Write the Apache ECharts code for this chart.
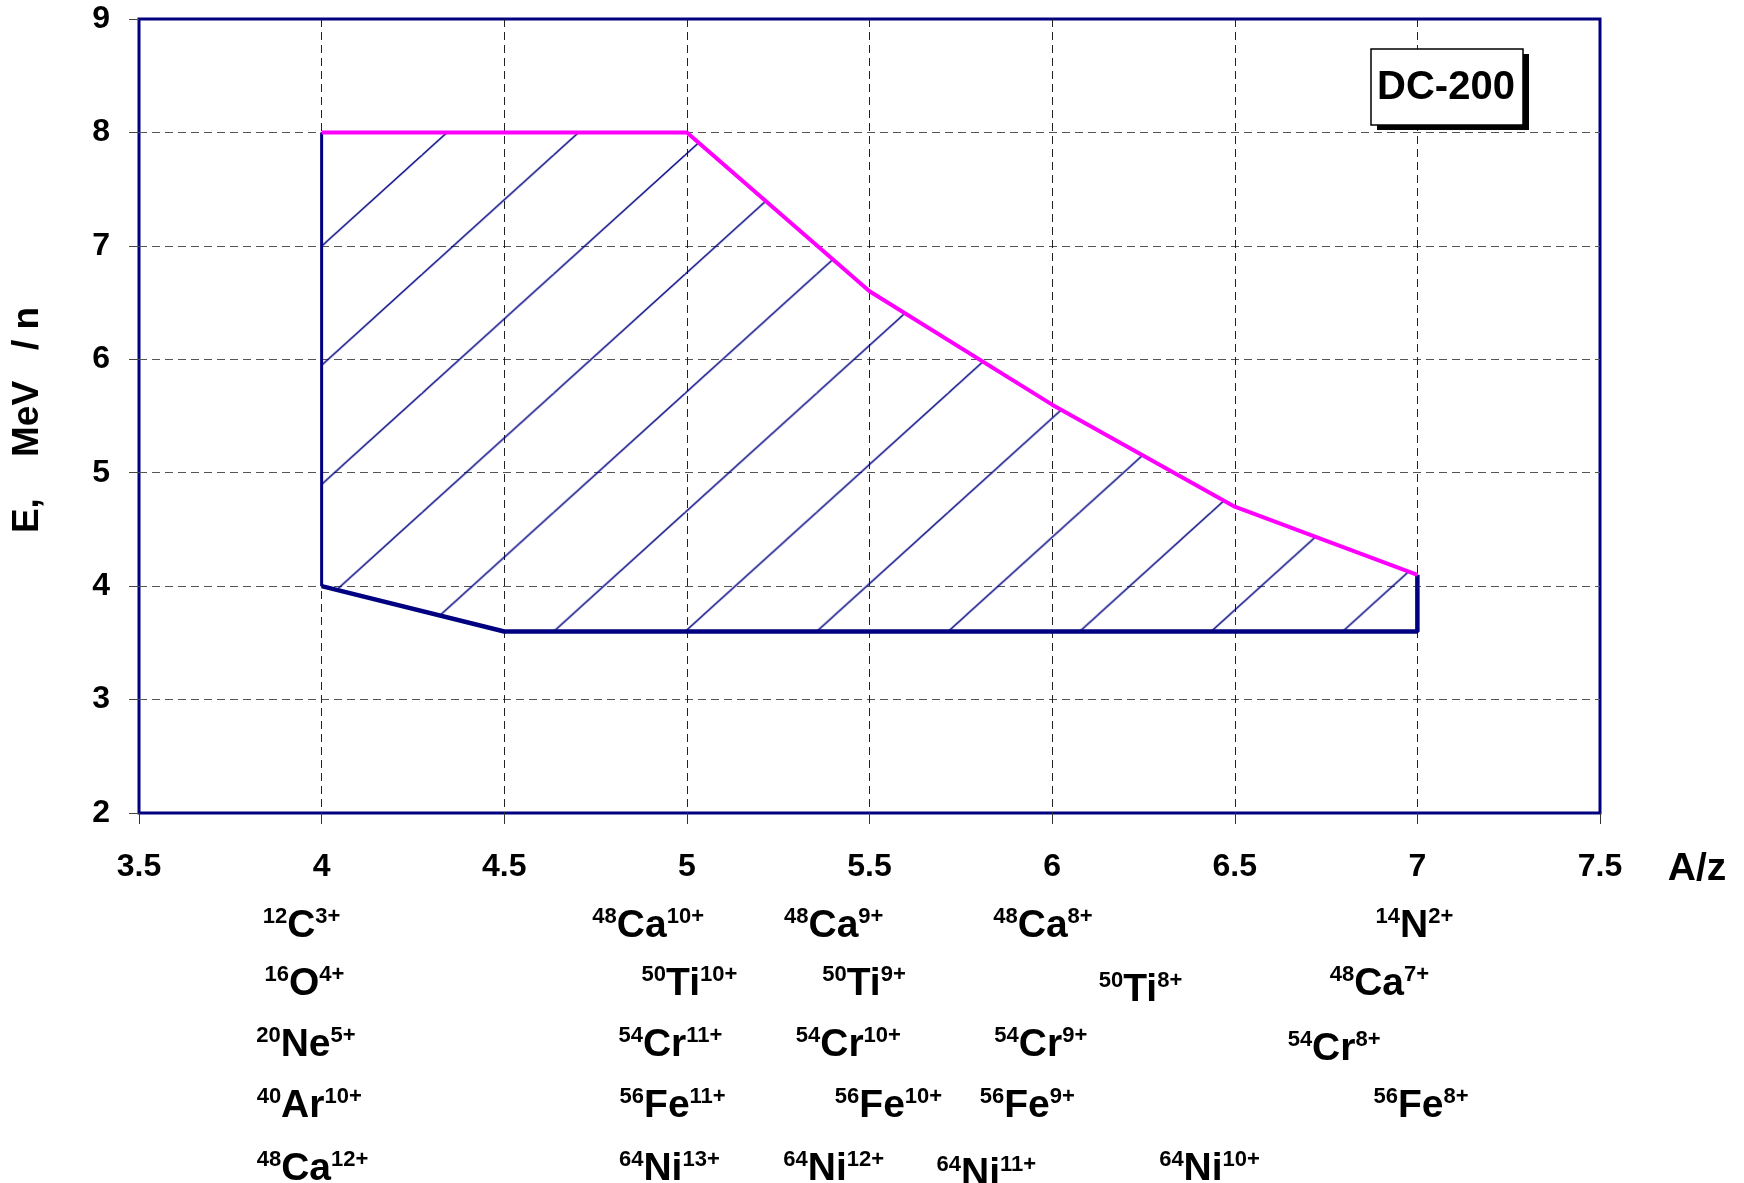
<!DOCTYPE html>
<html>
<head>
<meta charset="utf-8">
<title>DC-200</title>
<script src="https://cdn.jsdelivr.net/npm/echarts@6.0.0/dist/echarts.min.js"></script>
<style>
html, body { margin: 0; padding: 0; background: #fff; }
#chart { width: 1744px; height: 1183px; }
</style>
</head>
<body>
<div id="chart"></div>
<script>
// axes
var xRange = [3.5, 7.5], xStep = 0.5;
var yRange = [2, 9], yStep = 1;

// upper limit (magenta)
var topAz = [4, 5, 5.5, 6, 6.5, 7];
var topE = [8, 8, 6.6, 5.6, 4.7, 4.1];
// lower limit (navy), from right end round to the left
var bottomAz = [7, 7, 4.5, 4];
var bottomE = [4.1, 3.6, 3.6, 4];
var leftAz = [4, 4];
var leftE = [4, 8];

// ions under the axis
var ionMass = ['12', '48', '48', '48', '14',
               '16', '50', '50', '50', '48',
               '20', '54', '54', '54', '54',
               '40', '56', '56', '56', '56',
               '48', '64', '64', '64', '64'];
var ionElem = ['C', 'Ca', 'Ca', 'Ca', 'N',
               'O', 'Ti', 'Ti', 'Ti', 'Ca',
               'Ne', 'Cr', 'Cr', 'Cr', 'Cr',
               'Ar', 'Fe', 'Fe', 'Fe', 'Fe',
               'Ca', 'Ni', 'Ni', 'Ni', 'Ni'];
var ionCharge = ['3+', '10+', '9+', '8+', '2+',
                 '4+', '10+', '9+', '8+', '7+',
                 '5+', '11+', '10+', '9+', '8+',
                 '10+', '11+', '10+', '9+', '8+',
                 '12+', '13+', '12+', '11+', '10+'];

// where each ion label sits (A/z of its centre, row, small drop in px)
var labelAz = [3.945, 4.894, 5.402, 5.975, 6.992,
               3.953, 5.007, 5.485, 6.242, 6.896,
               3.957, 4.955, 5.442, 5.969, 6.772,
               3.966, 4.961, 5.552, 5.932, 7.01,
               3.975, 4.952, 5.402, 5.82, 6.431];
var labelRow = [0, 0, 0, 0, 0, 1, 1, 1, 1, 1, 2, 2, 2, 2, 2, 3, 3, 3, 3, 3, 4, 4, 4, 4, 4];
var labelDrop = [0, 0, 0, 0, 0, 0, 0, 0, 6, 0, 0, 0, 0, 0, 4, 0, 0, 0, 0, 0, 0, 0, 0, 5, 0];
var rowY = [926, 984, 1045, 1106, 1169];

// hatch: one line passes through hatchOrigin, repeat every hatchStep (A/z, E)
var hatchOrigin = [4.995, 3.6];
var hatchStep = [0.36, 1.05];

var FONT = '"Liberation Sans", Arial, sans-serif';
var NAVY = '#000080';

function pairs(xs, ys) {
	var out = [];
	for (var i = 0; i < xs.length; i++) {
		out.push([xs[i], ys[i]]);
	}
	return out;
}

var areaAz = topAz.concat(bottomAz.slice(1));
var areaE = topE.concat(bottomE.slice(1));

function makeHatch(w, h, org) {
	var cw = Math.max(4, Math.round(w)), ch = Math.max(4, Math.round(h));
	var cv = document.createElement('canvas');
	cv.width = cw;
	cv.height = ch;
	var ctx = cv.getContext('2d');
	ctx.strokeStyle = NAVY;
	ctx.lineWidth = 1.5;
	ctx.beginPath();
	for (var k = 0; k < 3; k++) {
		ctx.moveTo((k + 1) * cw, -ch);
		ctx.lineTo((k - 1) * cw, ch);
	}
	ctx.stroke();
	return {
		image: cv,
		repeat: 'repeat',
		x: org[0],
		y: org[1],
		scaleX: w / cw,
		scaleY: h / ch
	};
}

function hatchItem(params, api) {
	var pts = [];
	for (var i = 0; i < areaAz.length; i++) {
		pts.push(api.coord([areaAz[i], areaE[i]]));
	}
	var step = api.size(hatchStep);
	var org = api.coord(hatchOrigin);
	return {
		type: 'polygon',
		shape: { points: pts },
		style: { fill: makeHatch(step[0], step[1], org), stroke: null },
		silent: true
	};
}

var tickFont = { color: '#000', fontFamily: FONT, fontWeight: 'bold', fontSize: 32 };

var option = {
	animation: false,
	backgroundColor: '#fff',
	grid: {
		left: 139,
		right: 144,
		top: 19,
		bottom: 370,
		show: true,
		backgroundColor: '#fff',
		borderColor: NAVY,
		borderWidth: 3
	},
	xAxis: {
		type: 'value',
		min: xRange[0],
		max: xRange[1],
		interval: xStep,
		axisLine: { show: false, onZero: false },
		axisTick: { show: true, length: 11, lineStyle: { color: '#333', width: 1 } },
		axisLabel: Object.assign({ margin: 38, showMinLabel: true, showMaxLabel: true }, tickFont),
		splitLine: {
			show: true,
			showMinLine: false,
			showMaxLine: false,
			lineStyle: { color: '#222', width: 1, type: [8, 5] }
		}
	},
	yAxis: {
		type: 'value',
		min: yRange[0],
		max: yRange[1],
		interval: yStep,
		axisLine: { show: false, onZero: false },
		axisTick: { show: true, length: 10, lineStyle: { color: '#444', width: 1 } },
		axisLabel: Object.assign({ margin: 29, showMinLabel: true, showMaxLabel: true }, tickFont),
		splitLine: {
			show: true,
			showMinLine: false,
			showMaxLine: false,
			lineStyle: { color: '#555', width: 1, type: [8, 5] }
		}
	},
	series: [
		{
			name: 'hatch',
			type: 'custom',
			renderItem: hatchItem,
			data: [[areaAz[0], areaE[0]]],
			silent: true,
			z: 1
		},
		{
			name: 'left',
			type: 'line',
			data: pairs(leftAz, leftE),
			symbol: 'none',
			silent: true,
			lineStyle: { color: NAVY, width: 3 },
			z: 2
		},
		{
			name: 'bottom',
			type: 'line',
			data: pairs(bottomAz, bottomE),
			symbol: 'none',
			silent: true,
			lineStyle: { color: NAVY, width: 4.5 },
			z: 2
		},
		{
			name: 'top',
			type: 'line',
			data: pairs(topAz, topE),
			symbol: 'none',
			silent: true,
			lineStyle: { color: '#ff00ff', width: 4 },
			z: 3
		}
	]
};

var chart = echarts.init(document.getElementById('chart'), null, { renderer: 'canvas' });
chart.setOption(option);

var graphics = [];

// y axis name
graphics.push({
	type: 'text',
	x: 28,
	y: 420,
	rotation: Math.PI / 2,
	style: {
		text: 'E,    MeV   / n',
		fill: '#000',
		font: 'bold 37px ' + FONT,
		align: 'center',
		verticalAlign: 'middle'
	}
});

// x axis name
graphics.push({
	type: 'text',
	x: 1697,
	y: 869,
	style: {
		text: 'A/z',
		fill: '#000',
		font: 'bold 39px ' + FONT,
		align: 'center',
		verticalAlign: 'middle'
	}
});

// DC-200 box with shadow
graphics.push({
	type: 'rect',
	shape: { x: 1377, y: 54, width: 152, height: 76 },
	style: { fill: '#000' },
	z: 10
});
graphics.push({
	type: 'rect',
	shape: { x: 1371, y: 49, width: 152, height: 76 },
	style: { fill: '#fff', stroke: '#000', lineWidth: 1.5 },
	z: 11
});
graphics.push({
	type: 'text',
	x: 1446,
	y: 88,
	z: 12,
	style: {
		text: 'DC-200',
		fill: '#000',
		font: 'bold 40px ' + FONT,
		align: 'center',
		verticalAlign: 'middle'
	}
});

var supStyle = { fill: '#000', fontFamily: FONT, fontWeight: 'bold', fontSize: 22, lineHeight: 23, verticalAlign: 'top' };
var elemStyle = { fill: '#000', fontFamily: FONT, fontWeight: 'bold', fontSize: 39, lineHeight: 40 };

for (var i = 0; i < ionElem.length; i++) {
	var px = chart.convertToPixel({ xAxisIndex: 0 }, labelAz[i]);
	graphics.push({
		type: 'text',
		x: px,
		y: rowY[labelRow[i]] + labelDrop[i],
		style: {
			text: '{s|' + ionMass[i] + '}{e|' + ionElem[i] + '}{s|' + ionCharge[i] + '}',
			rich: { s: supStyle, e: elemStyle },
			align: 'center',
			verticalAlign: 'middle'
		}
	});
}

chart.setOption({ graphic: graphics });
</script>
</body>
</html>
